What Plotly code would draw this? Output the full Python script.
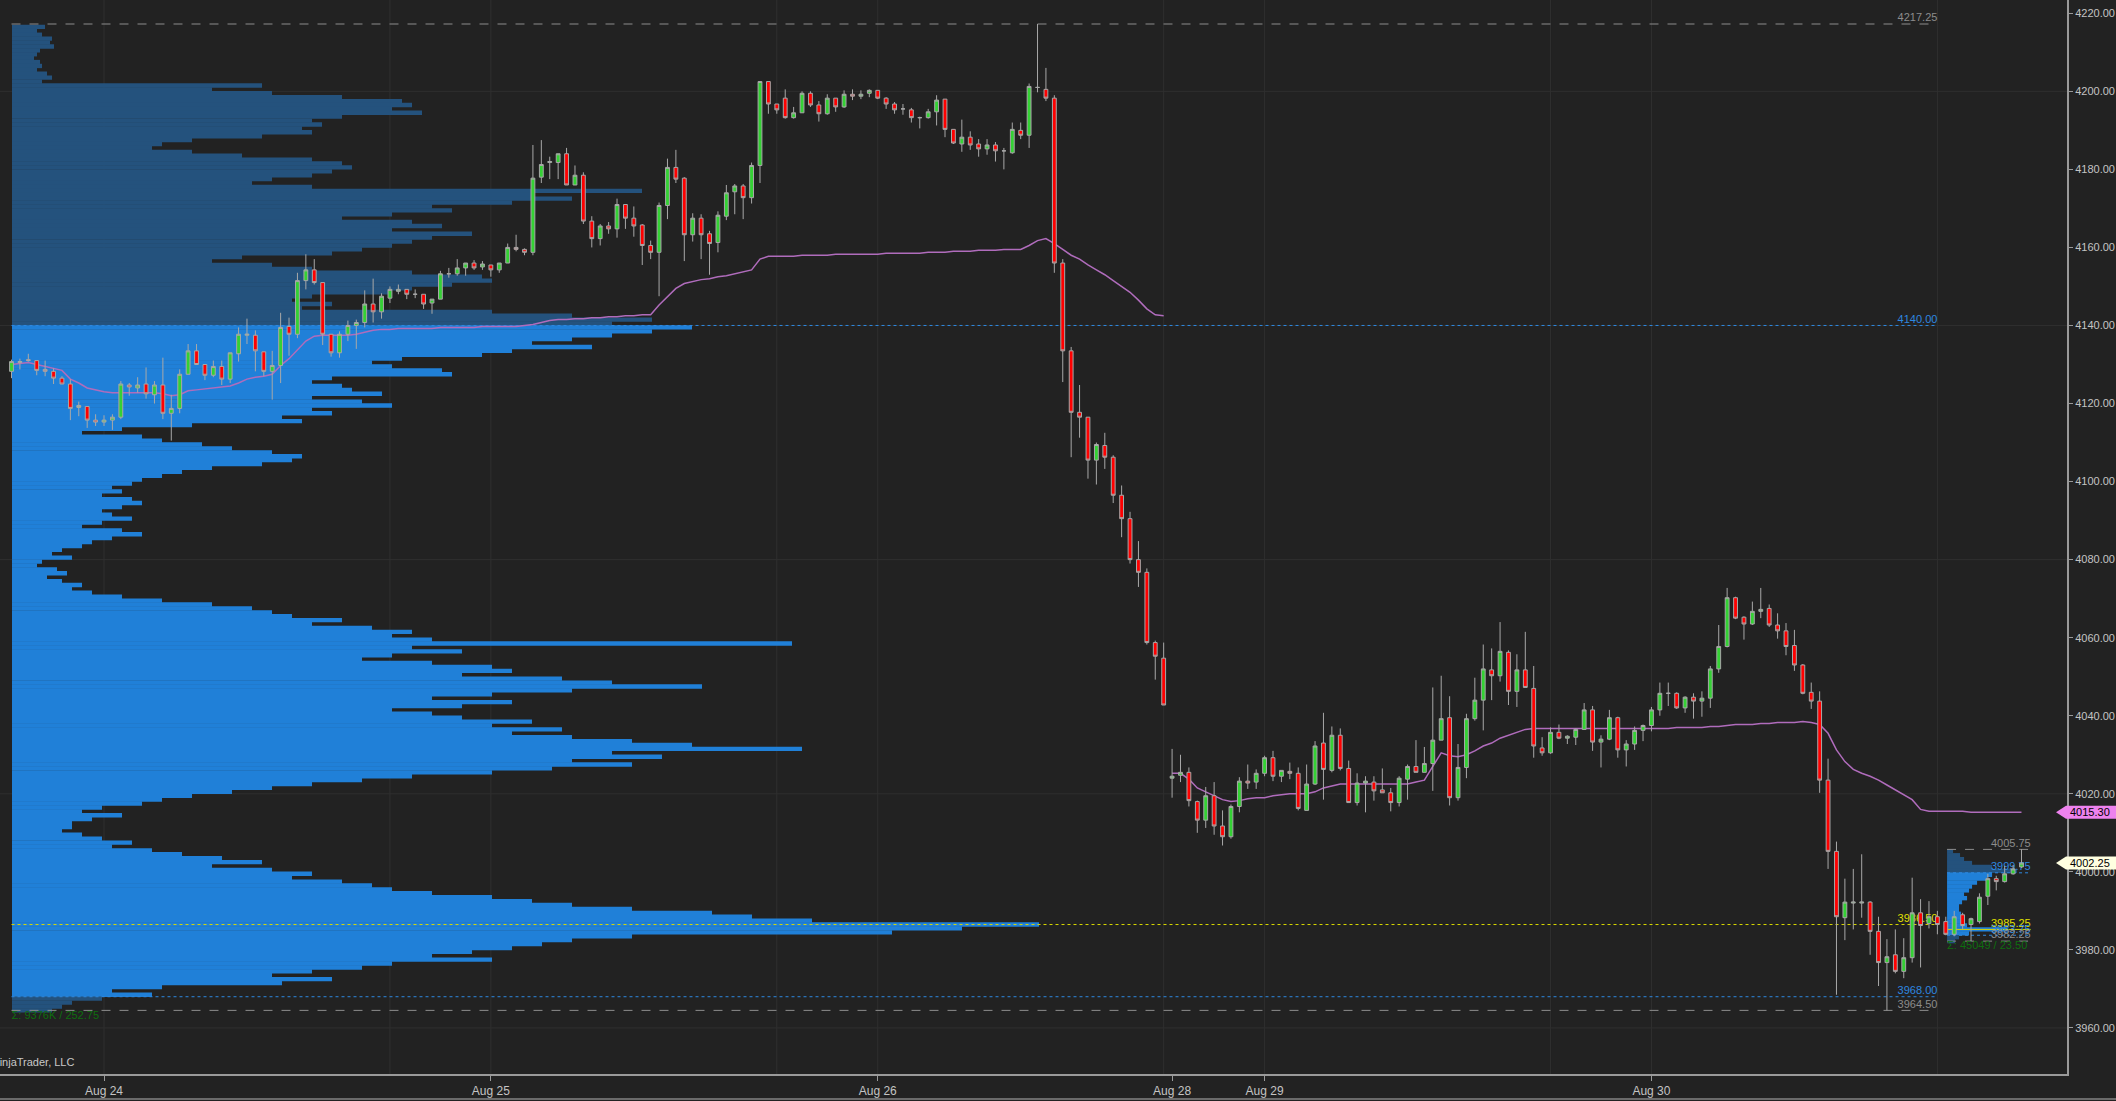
import numpy as np
import pandas as pd
import plotly.graph_objects as go

# ------------------------------------------------------------------ data
# ES 30-minute bars (US/Eastern), sessions 18:00 -> 17:00
session_ranges = [
    ("2022-08-23 18:30", "2022-08-24 17:00"),
    ("2022-08-24 18:30", "2022-08-25 17:00"),
    ("2022-08-25 18:30", "2022-08-26 17:00"),
    ("2022-08-28 18:30", "2022-08-29 17:00"),
    ("2022-08-29 18:30", "2022-08-30 17:00"),
    ("2022-08-30 18:30", "2022-08-30 23:00"),
]
week_profile_end = "2022-08-30 17:00"

opens = [
    4128.25, 4130.5, 4131.25, 4131.0, 4128.75, 4128.25, 4126.5, 4125.0, 4119.0, 4119.25,
    4115.75, 4115.25, 4115.75, 4116.5, 4124.75, 4124.0, 4125.0, 4122.25, 4124.75, 4117.5,
    4118.75, 4127.5, 4133.5, 4130.0, 4127.25, 4129.5, 4126.25, 4132.75, 4137.5, 4137.5,
    4133.25, 4128.25, 4129.75, 4139.75, 4137.75, 4151.5, 4154.25, 4151.0, 4137.75, 4133.0,
    4137.75, 4140.0, 4140.75, 4145.5, 4143.5, 4147.0, 4148.75, 4149.25, 4148.0, 4148.0,
    4145.75, 4146.75, 4153.25, 4153.25, 4154.75, 4156.0, 4155.0, 4155.5, 4154.25, 4156.0,
    4160.0, 4159.5, 4158.75, 4178.0, 4181.75, 4181.75, 4184.0, 4176.0, 4178.5, 4166.75,
    4162.25, 4165.5, 4164.75, 4171.0, 4167.5, 4165.75, 4160.5, 4158.75, 4170.75, 4180.5,
    4177.75, 4163.25, 4167.5, 4163.5, 4161.25, 4168.0, 4174.25, 4175.75, 4172.75, 4181.0,
    4202.5, 4196.75, 4198.25, 4193.25, 4194.5, 4199.5, 4196.5, 4194.25, 4198.25, 4196.0,
    4199.25, 4198.75, 4199.5, 4200.25, 4198.25, 4196.75, 4195.5, 4195.25, 4193.25, 4193.25,
    4194.75, 4198.0, 4190.25, 4186.5, 4188.25, 4186.5, 4185.25, 4186.25, 4184.75, 4184.25,
    4190.0, 4188.75, 4201.0, 4200.5, 4198.25, 4156.0, 4133.5, 4117.75, 4116.5, 4105.5,
    4109.25, 4106.25, 4096.5, 4090.5, 4080.0, 4076.75, 4058.75, 4054.75, 4024.0, 4024.75,
    4025.5, 4018.0, 4013.25, 4019.5, 4011.75, 4009.0, 4016.75, 4023.25, 4023.0, 4025.25,
    4029.25, 4024.5, 4025.75, 4025.25, 4015.75, 4022.5, 4033.0, 4026.0, 4035.0, 4026.5,
    4017.75, 4022.75, 4023.0, 4021.0, 4020.25, 4017.75, 4023.75, 4027.0, 4025.5, 4027.75,
    4033.75, 4039.5, 4019.0, 4026.75, 4039.25, 4044.0, 4051.75, 4050.25, 4056.25, 4046.25,
    4051.75, 4047.0, 4031.75, 4030.5, 4035.75, 4034.25, 4034.5, 4036.5, 4041.5, 4033.25,
    4034.0, 4039.5, 4031.25, 4032.75, 4036.25, 4037.5, 4041.5, 4045.75, 4045.75, 4042.0,
    4044.75, 4043.75, 4044.5, 4052.0, 4057.75, 4070.25, 4065.25, 4063.5, 4066.75, 4067.5,
    4063.25, 4061.75, 4058.0, 4053.0, 4046.0, 4043.75, 4023.5, 4005.25, 3988.25, 3992.0,
    3992.0, 3992.25, 3984.75, 3976.75, 3978.75, 3974.5, 3978.0, 3989.5, 3986.75, 3988.5,
    3987.25, 3984.0, 3989.0, 3986.5, 3987.25, 3993.75, 3998.25, 3997.5, 3999.5, 4001.25,
]
highs = [
    4131.25, 4131.5, 4132.75, 4131.0, 4131.0, 4129.0, 4127.0, 4126.25, 4120.5, 4119.25,
    4117.25, 4117.0, 4117.25, 4125.75, 4125.25, 4126.75, 4129.25, 4125.75, 4131.75, 4122.25,
    4128.75, 4135.25, 4135.25, 4130.0, 4131.0, 4131.0, 4133.0, 4139.5, 4141.75, 4138.75,
    4133.25, 4133.5, 4143.25, 4142.0, 4153.5, 4158.25, 4157.0, 4151.0, 4137.75, 4138.5,
    4141.25, 4141.5, 4149.0, 4152.0, 4148.25, 4150.0, 4150.5, 4149.25, 4149.25, 4148.0,
    4146.75, 4154.0, 4154.75, 4157.0, 4156.0, 4156.75, 4156.5, 4155.5, 4156.0, 4161.0,
    4163.25, 4159.75, 4186.25, 4187.5, 4183.25, 4184.0, 4185.5, 4181.0, 4179.25, 4168.0,
    4166.0, 4166.5, 4172.5, 4171.0, 4170.5, 4166.0, 4161.75, 4171.5, 4182.75, 4185.0,
    4178.0, 4168.75, 4168.5, 4164.25, 4169.25, 4176.0, 4176.25, 4176.25, 4181.75, 4202.5,
    4202.5, 4196.75, 4200.5, 4196.0, 4200.0, 4200.0, 4197.5, 4199.25, 4198.25, 4200.25,
    4200.5, 4200.25, 4200.5, 4200.25, 4198.5, 4197.25, 4196.75, 4195.75, 4193.5, 4195.5,
    4199.0, 4198.0, 4190.25, 4192.75, 4189.75, 4187.75, 4187.75, 4187.0, 4185.5, 4192.0,
    4192.0, 4202.0, 4217.25, 4206.0, 4199.0, 4157.0, 4134.5, 4124.75, 4116.5, 4110.0,
    4112.5, 4106.75, 4099.0, 4092.25, 4084.75, 4077.75, 4059.25, 4058.75, 4031.5, 4030.0,
    4026.75, 4018.25, 4021.75, 4023.0, 4015.75, 4017.25, 4024.25, 4027.5, 4026.25, 4029.75,
    4031.0, 4026.0, 4028.0, 4026.75, 4027.5, 4033.5, 4040.75, 4037.25, 4036.75, 4028.5,
    4025.25, 4024.5, 4024.5, 4026.5, 4021.5, 4024.5, 4027.5, 4033.75, 4032.0, 4047.25,
    4050.25, 4045.0, 4032.75, 4040.5, 4049.75, 4058.25, 4057.25, 4064.0, 4056.75, 4055.75,
    4061.5, 4052.75, 4034.5, 4037.0, 4037.75, 4035.0, 4036.75, 4043.25, 4042.5, 4035.0,
    4041.5, 4039.75, 4033.75, 4037.25, 4037.75, 4042.25, 4048.5, 4048.5, 4046.0, 4045.0,
    4045.75, 4046.25, 4052.75, 4063.25, 4072.75, 4070.5, 4065.5, 4069.25, 4072.75, 4068.5,
    4066.25, 4063.75, 4062.0, 4053.25, 4048.5, 4046.25, 4029.0, 4007.75, 3998.25, 4000.75,
    4004.5, 3992.5, 3988.5, 3982.75, 3985.25, 3983.0, 3998.5, 3993.0, 3992.5, 3990.0,
    3988.5, 3990.0, 3989.5, 3988.25, 3994.5, 3999.5, 3999.0, 4001.5, 4001.75, 4005.75,
]
lows = [
    4126.5, 4128.75, 4130.75, 4127.25, 4127.0, 4125.0, 4125.0, 4115.75, 4116.75, 4113.75,
    4114.25, 4114.25, 4113.25, 4116.0, 4122.0, 4122.75, 4121.25, 4120.0, 4116.0, 4110.5,
    4117.5, 4127.5, 4130.0, 4126.0, 4126.75, 4124.75, 4125.25, 4130.75, 4135.25, 4128.25,
    4127.0, 4121.0, 4125.25, 4132.25, 4136.75, 4149.25, 4150.5, 4135.0, 4132.0, 4131.75,
    4136.0, 4134.0, 4139.5, 4140.75, 4141.75, 4145.75, 4148.0, 4146.75, 4147.0, 4144.25,
    4143.0, 4146.75, 4152.25, 4152.75, 4152.75, 4154.25, 4154.25, 4152.5, 4153.5, 4156.0,
    4159.0, 4158.0, 4158.0, 4176.5, 4177.5, 4177.5, 4176.0, 4176.0, 4166.0, 4160.0,
    4160.5, 4163.5, 4162.5, 4164.75, 4162.75, 4155.5, 4157.0, 4147.5, 4167.25, 4176.5,
    4156.5, 4161.5, 4157.0, 4153.0, 4158.75, 4167.0, 4168.5, 4167.25, 4171.25, 4176.5,
    4194.25, 4194.25, 4193.0, 4193.0, 4194.5, 4196.0, 4192.25, 4194.0, 4194.75, 4195.75,
    4197.75, 4198.0, 4198.5, 4198.0, 4195.5, 4194.25, 4194.0, 4192.0, 4190.5, 4193.0,
    4191.25, 4188.25, 4186.5, 4184.5, 4185.0, 4183.25, 4183.75, 4182.0, 4180.0, 4184.0,
    4187.75, 4185.5, 4199.75, 4197.5, 4153.5, 4125.5, 4106.25, 4111.25, 4100.75, 4099.25,
    4103.25, 4094.5, 4085.75, 4079.0, 4073.0, 4058.25, 4049.25, 4042.75, 4019.0, 4023.0,
    4016.75, 4010.0, 4011.25, 4009.5, 4006.75, 4008.5, 4015.25, 4021.25, 4021.25, 4024.5,
    4023.25, 4023.0, 4023.75, 4015.75, 4015.75, 4022.25, 4018.5, 4025.5, 4026.0, 4017.75,
    4017.0, 4015.25, 4018.25, 4020.25, 4015.5, 4016.75, 4018.5, 4025.5, 4025.5, 4020.75,
    4033.75, 4017.0, 4018.25, 4024.0, 4038.75, 4036.25, 4044.0, 4048.75, 4042.75, 4042.25,
    4047.25, 4029.25, 4029.75, 4030.25, 4034.0, 4032.75, 4032.5, 4036.5, 4031.0, 4026.75,
    4033.75, 4029.25, 4027.0, 4031.25, 4033.5, 4036.0, 4040.0, 4042.5, 4041.75, 4040.75,
    4039.25, 4039.75, 4042.0, 4051.0, 4057.5, 4064.75, 4059.5, 4063.25, 4065.0, 4062.75,
    4059.75, 4055.5, 4051.5, 4045.5, 4041.75, 4020.25, 4000.75, 3968.5, 3982.5, 3985.25,
    3988.25, 3978.75, 3970.75, 3964.5, 3974.0, 3972.75, 3976.75, 3975.5, 3985.5, 3984.0,
    3983.75, 3983.5, 3985.25, 3982.25, 3986.75, 3991.5, 3995.25, 3997.25, 3999.25, 4001.0,
]
closes = [
    4130.75, 4130.75, 4131.0, 4128.5, 4128.25, 4126.5, 4125.0, 4118.75, 4119.5, 4115.75,
    4115.25, 4115.75, 4116.5, 4125.0, 4124.25, 4124.75, 4122.5, 4124.75, 4117.5, 4118.75,
    4127.5, 4133.5, 4130.0, 4127.25, 4129.5, 4126.25, 4133.0, 4137.75, 4137.75, 4133.5,
    4128.25, 4129.75, 4139.5, 4137.75, 4151.5, 4154.25, 4151.0, 4137.75, 4133.0, 4137.75,
    4140.0, 4140.75, 4145.5, 4143.5, 4147.5, 4149.25, 4149.25, 4148.0, 4148.0, 4145.5,
    4146.75, 4153.25, 4153.25, 4154.75, 4156.0, 4154.75, 4155.75, 4154.25, 4156.0, 4160.0,
    4159.5, 4158.75, 4177.75, 4181.25, 4182.0, 4184.0, 4176.0, 4178.5, 4166.75, 4162.25,
    4165.5, 4164.75, 4171.0, 4167.5, 4165.5, 4160.5, 4158.75, 4170.75, 4180.5, 4177.5,
    4163.25, 4167.5, 4163.25, 4161.0, 4168.25, 4174.0, 4175.75, 4172.75, 4181.0, 4202.5,
    4196.75, 4195.25, 4193.25, 4194.5, 4199.5, 4196.5, 4194.25, 4198.25, 4196.0, 4199.25,
    4198.75, 4199.25, 4200.25, 4198.25, 4196.75, 4195.25, 4195.5, 4193.25, 4193.25, 4194.75,
    4197.75, 4190.25, 4186.75, 4188.25, 4186.25, 4185.25, 4186.25, 4184.75, 4184.75, 4190.25,
    4188.75, 4201.25, 4201.0, 4198.25, 4156.0, 4133.5, 4117.75, 4116.5, 4105.5, 4109.5,
    4106.25, 4096.5, 4090.5, 4080.0, 4076.75, 4058.75, 4055.25, 4042.75, 4024.5, 4025.5,
    4018.25, 4013.25, 4019.5, 4011.75, 4009.0, 4016.75, 4023.25, 4022.75, 4025.25, 4029.25,
    4024.5, 4026.0, 4025.25, 4016.25, 4022.5, 4032.25, 4026.25, 4035.0, 4026.5, 4017.75,
    4022.75, 4023.25, 4020.75, 4020.25, 4017.75, 4024.0, 4027.0, 4025.5, 4027.75, 4033.75,
    4039.25, 4019.0, 4026.75, 4039.25, 4044.0, 4052.0, 4050.25, 4056.5, 4046.25, 4051.75,
    4047.25, 4032.25, 4030.5, 4035.75, 4034.25, 4034.75, 4036.5, 4041.5, 4033.25, 4034.0,
    4039.5, 4031.25, 4032.75, 4036.25, 4037.5, 4041.5, 4045.75, 4045.75, 4042.0, 4044.75,
    4043.75, 4044.5, 4052.0, 4057.75, 4070.25, 4065.0, 4063.5, 4066.75, 4067.25, 4063.25,
    4061.75, 4057.75, 4053.0, 4045.75, 4043.75, 4023.5, 4005.25, 3988.5, 3992.25, 3992.25,
    3992.25, 3984.75, 3976.75, 3978.25, 3974.5, 3978.0, 3989.5, 3986.25, 3988.5, 3986.5,
    3984.0, 3988.5, 3986.25, 3988.0, 3993.5, 3998.25, 3997.5, 3999.5, 4000.75, 4002.25,
]

# weekly VWAP: previous week (ends Fri 17:00) and current week (starts Sun 18:00)
vwap_prev_week = [
    4130.0, 4130.25, 4130.5, 4130.0, 4129.5, 4129.0, 4128.5, 4126.25, 4125.25, 4124.0,
    4123.5, 4123.0, 4122.75, 4122.75, 4122.75, 4122.75, 4122.75, 4122.75, 4122.5, 4122.0,
    4122.25, 4123.25, 4123.5, 4123.75, 4124.0, 4124.25, 4124.5, 4125.25, 4126.25, 4126.75,
    4127.0, 4127.5, 4129.75, 4131.5, 4133.75, 4136.0, 4137.25, 4137.5, 4137.5, 4137.5,
    4137.5, 4137.75, 4138.25, 4138.75, 4139.0, 4139.0, 4139.25, 4139.25, 4139.25, 4139.25,
    4139.25, 4139.5, 4139.5, 4139.5, 4139.5, 4139.5, 4139.75, 4139.75, 4139.75, 4139.75,
    4139.75, 4140.0, 4140.25, 4140.75, 4141.25, 4141.5, 4141.5, 4141.75, 4141.75, 4142.0,
    4142.0, 4142.25, 4142.25, 4142.5, 4142.5, 4142.75, 4142.75, 4145.25, 4147.5, 4149.5,
    4150.75, 4151.25, 4151.75, 4152.0, 4152.5, 4152.75, 4153.25, 4153.75, 4154.25, 4157.0,
    4157.75, 4157.75, 4157.75, 4157.75, 4158.0, 4158.0, 4158.0, 4158.0, 4158.25, 4158.25,
    4158.25, 4158.25, 4158.25, 4158.25, 4158.5, 4158.5, 4158.5, 4158.5, 4158.5, 4158.75,
    4158.75, 4158.75, 4159.0, 4159.0, 4159.0, 4159.25, 4159.25, 4159.25, 4159.5, 4159.5,
    4159.5, 4160.5, 4161.75, 4162.25, 4161.0, 4159.5, 4158.0, 4157.0, 4155.5, 4154.25,
    4153.0, 4151.5, 4150.0, 4148.5, 4146.5, 4144.25, 4142.75, 4142.5,
]
vwap_week = [
    4025.25, 4025.25, 4023.75, 4021.5, 4020.5, 4019.5, 4018.5, 4018.0, 4018.25, 4018.75,
    4019.0, 4019.0, 4019.5, 4019.75, 4020.0, 4020.0, 4020.0, 4020.5, 4021.5, 4022.0,
    4022.5, 4022.5, 4022.5, 4022.5, 4022.5, 4022.5, 4022.5, 4022.5, 4022.5, 4023.0,
    4023.5, 4027.0, 4030.5, 4029.75, 4029.5, 4030.0, 4031.0, 4032.25, 4033.0, 4034.25,
    4035.0, 4035.75, 4036.5, 4036.75, 4036.75, 4036.75, 4036.75, 4036.75, 4036.75, 4036.75,
    4036.75, 4036.75, 4036.75, 4036.75, 4036.75, 4036.75, 4036.75, 4036.75, 4036.75, 4036.75,
    4037.0, 4037.0, 4037.0, 4037.0, 4037.25, 4037.25, 4037.5, 4037.75, 4037.75, 4037.75,
    4038.0, 4038.0, 4038.25, 4038.25, 4038.25, 4038.5, 4038.25, 4037.75, 4035.5, 4031.25,
    4028.25, 4026.25, 4025.25, 4024.5, 4023.5, 4022.25, 4021.0, 4019.75, 4018.5, 4016.0,
    4015.5, 4015.5, 4015.5, 4015.5, 4015.5, 4015.25, 4015.25, 4015.25, 4015.25, 4015.25,
    4015.25, 4015.3,
]

# multi-day volume profile, relative volume per 1-pt level, from 4216.5 down to 3964.5
week_profile_top = 4216.5
week_profile_vol = [
    33, 25, 30, 40, 38, 42, 28, 25, 22, 28, 30, 25, 35, 40, 30,
    250, 200, 260, 330, 390, 400, 380, 410, 330, 300, 310, 290, 300, 250, 180, 150, 140, 180, 230,
    300, 330, 340, 320, 300, 260, 240,
    300, 630, 520, 560, 500, 420, 440, 380, 330, 400, 430, 380, 460, 420, 400, 380, 350, 320,
    230, 200, 260, 300, 400, 470, 480, 440, 400, 380, 300, 280, 320, 290, 480, 560, 640, 600,
    680, 640, 600, 560, 520, 580, 500, 470,
    390, 360, 380, 430, 440,
    320, 300, 330,
    340, 370, 300, 350, 380,
    300, 320, 270, 290,
    180, 110, 70, 130, 150, 190, 220, 260, 290, 280,
    250, 200, 170, 150, 130, 120, 100, 110, 90, 120, 130, 110, 90,
    100, 120, 90, 70, 110, 130, 100, 80,
    70, 50, 40, 60, 30, 25, 45, 55, 35, 50, 70, 60, 80,
    110, 150, 200, 240, 260,
    280, 330, 300, 360, 400, 380, 420, 780,
    400, 450, 380, 350, 420, 480, 500, 450,
    550, 600, 690, 560, 480,
    420, 500, 450, 380, 420,
    450, 520, 480, 550, 500, 560,
    620, 680, 790,
    600, 650, 560, 620, 540, 480, 400,
    350, 300, 260, 220, 180, 150, 130,
    90, 70, 110, 80, 60,
    60, 50, 70, 90, 120, 100, 140,
    170, 210, 250, 200, 260, 300, 280, 330, 360, 380,
    420, 480, 520, 560, 620, 700, 740,
    800, 1027, 950, 880,
    620, 560, 530,
    500, 460, 420, 480, 380,
    350, 300, 260, 320, 270, 150,
    100, 140, 90,
    60, 50, 40,
]
week_high, week_vah, week_poc, week_val, week_low = 4217.25, 4140.00, 3986.50, 3968.00, 3964.50
week_sigma = "Σ: 9376K / 252.75"

# current session profile, levels 4005.25 down to 3982.25
session_profile_top = 4005.25
session_profile_vol = [6, 13, 17, 25, 45, 70, 45, 40, 30, 25, 22, 17, 20, 15, 12, 12, 14, 16, 17, 20, 60, 22, 12, 8]
sess_high, sess_vah, sess_poc, sess_val, sess_low = 4005.75, 3999.75, 3985.25, 3983.75, 3982.25
sess_sigma = "Σ: 45049 / 23.50"

# ------------------------------------------------------------------ geometry / style
W, H = 2116, 1101
PLOT_W, PLOT_H = 2067, 1074
BAR_PX = 8.41
FIRST_BAR_PX = 11.5
PROFILE_LEFT_PX = 12
x_lo = -FIRST_BAR_PX / BAR_PX
x_hi = x_lo + PLOT_W / BAR_PX
y_lo, y_hi = 3948.2, 4223.4

BG = "#222222"
GRID = "#2f2f2f"
AXIS = "#9a9a9a"
TXT = "#c4c4c4"
VA_BRIGHT = "#2080d8"
VA_DARK = "#24527d"
GRAY_LBL = "#8c8c8c"
BLUE_LBL = "#2e88e0"
YEL_LBL = "#e0e000"
GREEN_LBL = "#0e6e0e"
VWAP_CLR = "#b06cbc"
FONT = "Liberation Sans, Arial, sans-serif"
NARROW = "Liberation Sans Narrow, Arial Narrow, Liberation Sans, Arial, sans-serif"

bar_times = pd.DatetimeIndex(np.concatenate(
    [pd.date_range(a, b, freq="30min").values for a, b in session_ranges]))
n = len(bar_times)
bars = np.arange(n)
week_last_bar = int(np.where(bar_times <= pd.Timestamp(week_profile_end))[0][-1])
sess_first_bar = week_last_bar + 1
sess_last_bar = n - 1

tick_bars = [i for i in range(1, n) if bar_times[i].date() != bar_times[i - 1].date()]
tick_text = [bar_times[i].strftime("%b %d") for i in tick_bars]
grid_bars = [i for i in range(n) if bar_times[i].strftime("%H:%M") in ("00:00", "17:00")]

fig = go.Figure()

# ---- volume profiles (base x axis, units = px of profile width)
ROW_H = 1.12  # slight overlap hides anti-aliasing seams between rows
week_levels = week_profile_top - np.arange(len(week_profile_vol))
week_cols = [VA_BRIGHT if week_val <= p <= week_vah else VA_DARK for p in week_levels]
fig.add_trace(go.Bar(orientation="h", y=week_levels, x=week_profile_vol, width=ROW_H,
                     marker=dict(color=week_cols, line=dict(width=0)),
                     xaxis="x", yaxis="y", hoverinfo="skip"))

sess_levels = session_profile_top - np.arange(len(session_profile_vol))
sess_cols = [VA_BRIGHT if sess_val <= p <= sess_vah else VA_DARK for p in sess_levels]
sess_base = FIRST_BAR_PX + (sess_first_bar + 0.15) * BAR_PX - PROFILE_LEFT_PX
fig.add_trace(go.Bar(orientation="h", y=sess_levels, x=session_profile_vol, width=ROW_H,
                     base=[sess_base] * len(sess_levels),
                     marker=dict(color=sess_cols, line=dict(width=0)),
                     xaxis="x", yaxis="y", hoverinfo="skip"))


# ---- profile level lines + labels (x2 overlay)
def level(x0, x1, y, color, dash, label, label_color=None):
    fig.add_trace(go.Scatter(x=[x0, x1], y=[y, y], mode="lines",
                             line=dict(color=color, width=1, dash=dash),
                             xaxis="x2", yaxis="y", hoverinfo="skip"))
    fig.add_trace(go.Scatter(x=[x1], y=[y], mode="text", text=[label],
                             textposition="top left",
                             textfont=dict(family=FONT, size=11, color=label_color or color),
                             xaxis="x2", yaxis="y", hoverinfo="skip", cliponaxis=False))


wx0, wx1 = 0, week_last_bar
level(wx0, wx1, week_high, GRAY_LBL, "dash", f"{week_high:.2f}")
level(wx0, wx1, week_vah, BLUE_LBL, "dot", f"{week_vah:.2f}")
level(wx0, wx1, week_poc, "#d8d800", "dot", f"{week_poc:.2f}", YEL_LBL)
level(wx0, wx1, week_val, BLUE_LBL, "dot", f"{week_val:.2f}")
level(wx0, wx1, week_low, GRAY_LBL, "dash", f"{week_low:.2f}")
fig.add_trace(go.Scatter(x=[wx0], y=[week_low], mode="text", text=[week_sigma],
                         textposition="bottom right",
                         textfont=dict(family=FONT, size=11, color=GREEN_LBL),
                         xaxis="x2", yaxis="y", hoverinfo="skip"))

sx0, sx1 = sess_first_bar + 0.15, sess_last_bar + 1.1
level(sx0, sx1, sess_high, GRAY_LBL, "dash", f"{sess_high:.2f}")
level(sx0, sx1, sess_vah, BLUE_LBL, "dot", f"{sess_vah:.2f}")
level(sx0, sx1, sess_poc, "#d8d800", "solid", f"{sess_poc:.2f}", YEL_LBL)
level(sx0, sx1, sess_val, BLUE_LBL, "dot", f"{sess_val:.2f}")
level(sx0, sx1, sess_low, GRAY_LBL, "dash", f"{sess_low:.2f}")
fig.add_trace(go.Scatter(x=[sx0], y=[sess_low], mode="text", text=[sess_sigma],
                         textposition="bottom right",
                         textfont=dict(family=FONT, size=11, color=GREEN_LBL),
                         xaxis="x2", yaxis="y", hoverinfo="skip", cliponaxis=False))

# ---- VWAP
fig.add_trace(go.Scatter(x=bars[:len(vwap_prev_week)], y=vwap_prev_week, mode="lines",
                         line=dict(color=VWAP_CLR, width=1.5), xaxis="x2", yaxis="y",
                         hoverinfo="skip"))
fig.add_trace(go.Scatter(x=bars[n - len(vwap_week):], y=vwap_week, mode="lines",
                         line=dict(color=VWAP_CLR, width=1.5), xaxis="x2", yaxis="y",
                         hoverinfo="skip"))

# ---- candles (x3 overlay, on top)
fig.add_trace(go.Candlestick(
    x=bars, open=opens, high=highs, low=lows, close=closes,
    increasing=dict(fillcolor="#34d134", line=dict(color="#a8a8a8", width=1)),
    decreasing=dict(fillcolor="#ff0000", line=dict(color="#a8a8a8", width=1)),
    whiskerwidth=0, xaxis="x3", yaxis="y", hoverinfo="skip"))

# ---- grid
shapes = []
for b in grid_bars:
    shapes.append(dict(type="line", xref="x2", yref="paper", x0=b, x1=b, y0=0, y1=1,
                       line=dict(color=GRID, width=1), layer="below"))
for v in range(3960, 4221, 60):
    shapes.append(dict(type="line", xref="paper", yref="y", x0=0, x1=1, y0=v, y1=v,
                       line=dict(color=GRID, width=1), layer="below"))
# bottom panel edge
shapes.append(dict(type="line", xref="paper", yref="paper", x0=0, x1=W / PLOT_W,
                   y0=-(H - 2 - PLOT_H) / PLOT_H, y1=-(H - 2 - PLOT_H) / PLOT_H,
                   line=dict(color="#6a6a6a", width=2)))

# ---- right-side price markers
annotations = []


def marker(price, fill):
    tip, body, end = 2056 / PLOT_W, 2066 / PLOT_W, W / PLOT_W
    h = 6.5 / (PLOT_H / (y_hi - y_lo))
    shapes.append(dict(type="path", xref="paper", yref="y",
                       path=f"M {tip},{price} L {body},{price + h} L {end},{price + h} "
                            f"L {end},{price - h} L {body},{price - h} Z",
                       fillcolor=fill, line=dict(width=0), layer="above"))
    annotations.append(dict(x=(2066 + 2114) / 2 / PLOT_W, y=price, xref="paper", yref="y",
                            text=f"{price:.2f}", showarrow=False, xanchor="center",
                            yanchor="middle", font=dict(family=FONT, size=11, color="#000000")))


marker(vwap_week[-1], "#ee82ee")
marker(closes[-1], "#ffffe0")

annotations.append(dict(x=76 / PLOT_W, y=(PLOT_H - 1062) / PLOT_H, xref="paper", yref="paper",
                        text="© 2022 NinjaTrader, LLC", showarrow=False, xanchor="right",
                        yanchor="middle", font=dict(family=NARROW, size=11, color="#c8c8c8")))

ytick_vals = list(range(3960, 4221, 20))

fig.update_layout(
    width=W, height=H,
    margin=dict(l=0, r=W - PLOT_W, t=0, b=H - PLOT_H, pad=0),
    paper_bgcolor=BG, plot_bgcolor=BG,
    showlegend=False, barmode="overlay", hovermode=False, boxgap=0.35,
    shapes=shapes, annotations=annotations,
    xaxis=dict(range=[-PROFILE_LEFT_PX, PLOT_W - PROFILE_LEFT_PX], visible=False,
               fixedrange=True),
    xaxis2=dict(range=[x_lo, x_hi], overlaying="x", anchor="y", side="bottom",
                tickmode="array", tickvals=tick_bars, ticktext=tick_text,
                ticks="outside", ticklen=5, tickcolor=AXIS, tickwidth=1,
                tickfont=dict(family=NARROW, size=12, color=TXT),
                showline=True, linecolor=AXIS, linewidth=2, showgrid=False,
                zeroline=False),
    xaxis3=dict(range=[x_lo, x_hi], overlaying="x", anchor="y", visible=False,
                rangeslider=dict(visible=False)),
    yaxis=dict(range=[y_lo, y_hi], side="right", tickmode="array", tickvals=ytick_vals,
               ticktext=[f"{v:.2f}" for v in ytick_vals], ticks="outside", ticklen=4,
               tickcolor=AXIS, tickfont=dict(family=FONT, size=11, color=TXT),
               showline=True, linecolor=AXIS, linewidth=2, showgrid=False,
               zeroline=False),
)

fig.write_html("out.html", config={"displayModeBar": False},
               post_script="document.body.style.margin='0';document.body.style.overflow='hidden';")
